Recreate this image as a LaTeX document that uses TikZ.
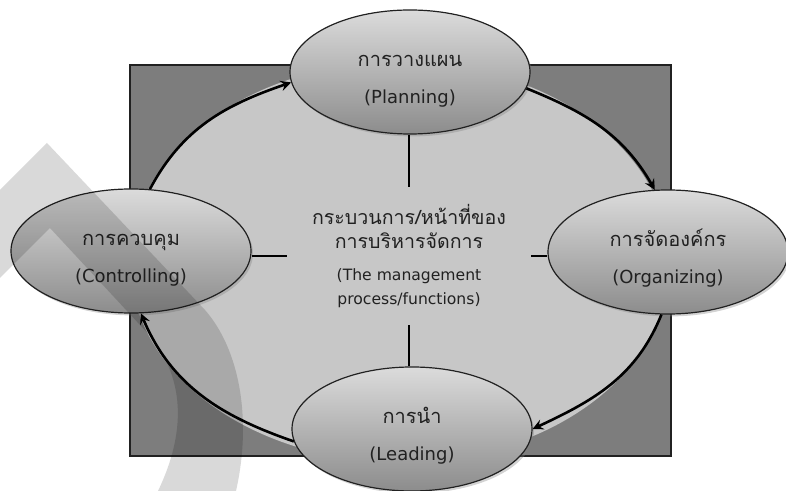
\documentclass[tikz,border=0pt]{standalone}
\usepackage{fontspec}
\setmainfont{DejaVu Sans}
\newfontfamily\thaifont[Script=Thai]{Loma}
\usetikzlibrary{shapes.geometric,shadows}
\definecolor{boardgray}{gray}{0.49}
\definecolor{cyclegray}{gray}{0.78}
\definecolor{ovaltop}{gray}{0.86}
\definecolor{ovalbottom}{gray}{0.55}
\definecolor{inkgray}{gray}{0.13}
\newcommand{\thline}[1]{{\thaifont\fontsize{10}{12}\selectfont\rule{0pt}{15pt}#1}}

\begin{document}
\begin{tikzpicture}[x=0.5pt, y=-0.5pt, >=stealth, font=\fontsize{9}{10.5}\selectfont, text=inkgray]
  \tikzstyle{oval}=[ellipse, draw=inkgray, line width=0.6pt, minimum width=120pt, minimum height=62pt, inner sep=0pt, align=center, top color=ovaltop, bottom color=ovalbottom, drop shadow={shadow xshift=1pt, shadow yshift=-1.2pt, opacity=0.35}]
  \tikzstyle{cyclearrow}=[->, line width=1.3pt]
  \tikzstyle{spoke}=[line width=1pt]
  \useasboundingbox (0,0) rectangle (786,491);
  % board and inner cycle
  \filldraw[fill=boardgray, draw=inkgray, line width=0.6pt] (130,65) rectangle (671,456);
  \fill[cyclegray] (400,262) ellipse [x radius=135pt, y radius=100pt];
  % the four functions
  \node[oval] (plan) at (410,72) {\thline{การวางแผน}\\[8pt](Planning)};
  \node[oval] (org) at (668,252) {\thline{การจัดองค์กร}\\[8pt](Organizing)};
  \node[oval] (lead) at (412,429) {\thline{การนำ}\\[8pt](Leading)};
  \node[oval] (ctrl) at (131,251) {\thline{การควบคุม}\\[8pt](Controlling)};
  \node[minimum width=122pt, minimum height=69pt, align=center, font=\fontsize{7.8}{12}\selectfont] (core) at (409,256)
    {{\thaifont\fontsize{9.8}{12}\selectfont กระบวนการ/หน้าที่ของ}\\{\thaifont\fontsize{9.8}{12}\selectfont การบริหารจัดการ}\\[4pt](The management\\process/functions)};
  % spokes
  \draw[spoke] (core.north) -- (core.north |- plan.south);
  \draw[spoke] (core.south) -- (core.south |- lead.north);
  \draw[spoke] (core.west) -- (core.west -| ctrl.east);
  \draw[spoke] (core.east) -- (core.east -| org.west);
  % clockwise arrows
  \draw[cyclearrow] (ctrl.73) to[out=62, in=199] (plan.185);
  \draw[cyclearrow] (plan.-8) to[out=-22, in=120] (org.102);
  \draw[cyclearrow] (org.-96) to[out=-112, in=25] (lead.east);
  \draw[cyclearrow] (lead.186) to[out=161, in=-67] (ctrl.-81);
  % watermark band
  \fill[black, opacity=0.15] (0,190) -- (47,143) -- (205,310) .. controls (240,350) and (252,420) .. (236,491) -- (158,491) .. controls (192,420) and (180,365) .. (140,325) -- (50,228) -- (0,278) -- cycle;
\end{tikzpicture}
\end{document}
